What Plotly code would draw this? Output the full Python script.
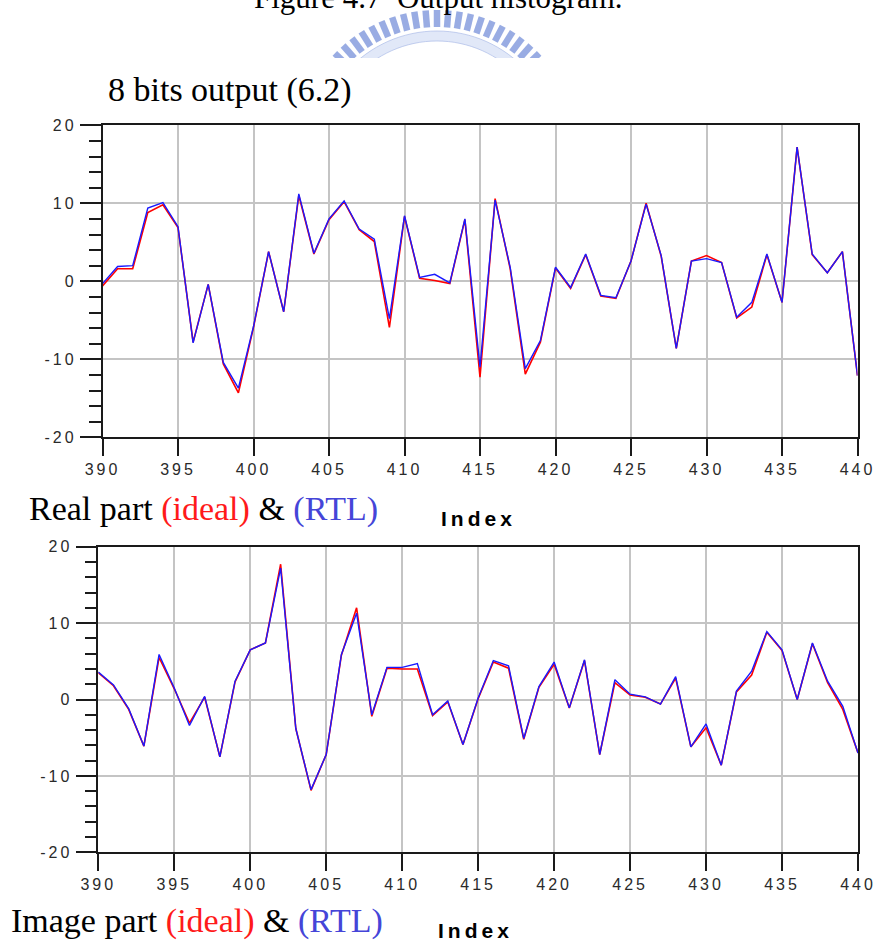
import math
import plotly.graph_objects as go

# ---- data -------------------------------------------------------------
index = list(range(390, 441))

real_ideal = [-0.6, 1.6, 1.6, 8.8, 9.8, 6.9, -7.8, -0.4, -10.6, -14.3,
              -5.9, 3.8, -3.9, 11.0, 3.5, 7.9, 10.2, 6.6, 5.1, -5.9,
              8.3, 0.4, 0.1, -0.3, 7.9, -12.3, 10.6, 1.6, -11.9, -7.8,
              1.7, -0.9, 3.4, -1.9, -2.2, 2.6, 10.0, 3.2, -8.6, 2.6,
              3.3, 2.4, -4.7, -3.3, 3.4, -2.7, 17.2, 3.4, 1.1, 3.8, -12.1]
real_rtl = [-0.3, 1.9, 2.0, 9.4, 10.1, 7.0, -7.9, -0.4, -10.4, -13.7,
            -5.8, 3.8, -3.9, 11.2, 3.6, 8.0, 10.3, 6.7, 5.4, -4.8,
            8.4, 0.5, 0.9, -0.2, 8.0, -11.0, 10.4, 1.8, -11.2, -7.6,
            1.8, -0.8, 3.5, -1.8, -2.1, 2.6, 9.9, 3.3, -8.6, 2.6,
            2.9, 2.4, -4.6, -2.7, 3.5, -2.7, 17.2, 3.5, 1.1, 3.8, -12.1]

imag_ideal = [3.5, 1.8, -1.3, -6.1, 5.5, 1.4, -3.1, 0.3, -7.5, 2.3,
              6.5, 7.4, 17.7, -3.8, -11.9, -7.2, 5.8, 12.0, -2.2, 4.1,
              4.0, 4.0, -2.1, -0.3, -5.9, 0.1, 4.9, 4.1, -5.2, 1.6,
              4.6, -1.1, 5.1, -7.2, 2.2, 0.6, 0.3, -0.6, 2.8, -6.2,
              -3.7, -8.6, 1.0, 3.2, 8.8, 6.4, 0.0, 7.3, 2.2, -1.3, -7.0]
imag_rtl = [3.6, 1.9, -1.2, -6.1, 5.9, 1.5, -3.4, 0.4, -7.5, 2.4,
            6.5, 7.4, 17.2, -3.8, -11.8, -7.2, 5.9, 11.3, -2.0, 4.2,
            4.2, 4.7, -2.0, -0.2, -5.9, 0.2, 5.1, 4.4, -5.1, 1.7,
            4.9, -1.1, 5.2, -7.2, 2.6, 0.7, 0.35, -0.6, 3.0, -6.2,
            -3.2, -8.6, 1.1, 3.7, 8.9, 6.5, 0.0, 7.4, 2.4, -0.9, -7.0]

x_ticks = list(range(390, 441, 5))
y_ticks = [-20, -10, 0, 10, 20]

# ---- helpers ----------------------------------------------------------
W, H = 880, 943


def px(x):
    return x / W


def py(y):
    return 1 - y / H


def spaced(s, gap=3):
    return f"<span style='letter-spacing:{gap}px'>{s}</span>"


RED = "#ff0000"
BLUE = "#1a1aff"
GRID = "#c4c4c4"
AXC = "#1a1a1a"
TICKFONT = dict(family="Liberation Sans, Arial", size=16, color="#2a2a2a")
SERIF = "Liberation Serif, Times New Roman, serif"

fig = go.Figure()

for xa, ya, ideal, rtl in [("x", "y", real_ideal, real_rtl),
                           ("x2", "y2", imag_ideal, imag_rtl)]:
    fig.add_trace(go.Scatter(x=index, y=ideal, mode="lines", xaxis=xa, yaxis=ya,
                             line=dict(color=RED, width=1.6), name="ideal",
                             showlegend=False, hoverinfo="skip"))
    fig.add_trace(go.Scatter(x=index, y=rtl, mode="lines", xaxis=xa, yaxis=ya,
                             line=dict(color=BLUE, width=1.4), name="RTL",
                             showlegend=False, hoverinfo="skip"))


def xaxis_style(domain, anchor):
    return dict(domain=domain, anchor=anchor, range=[390, 440],
                tickvals=x_ticks, ticktext=[spaced(v) for v in x_ticks],
                ticks="outside", ticklen=17, tickwidth=1.5, tickcolor=AXC,
                tickfont=TICKFONT, showgrid=True, gridcolor=GRID, gridwidth=1.5,
                showline=True, linecolor=AXC, linewidth=1.5, mirror=True,
                zeroline=False, fixedrange=True, automargin=False)


def yaxis_style(domain, anchor):
    return dict(domain=domain, anchor=anchor, range=[-20, 20],
                tickvals=y_ticks, ticktext=[spaced(v) for v in y_ticks],
                ticks="outside", ticklen=21, tickwidth=1.5, tickcolor=AXC,
                tickfont=TICKFONT, showgrid=True, gridcolor=GRID, gridwidth=1.5,
                showline=True, linecolor=AXC, linewidth=1.5, mirror=True,
                zeroline=False, fixedrange=True, automargin=False,
                minor=dict(dtick=2, ticks="outside", ticklen=12, tickwidth=1.5,
                           tickcolor=AXC, showgrid=False))


# plot areas (pixel frame of each panel)
top_x = [px(102.5), px(857.5)]
top_y = [py(437.3), py(125.3)]
bot_x = [px(98.3), px(858.0)]
bot_y = [py(852.3), py(546.7)]

# ---- watermark emblem above the charts ---------------------------------
shapes = []
cx, cy = 437, 152
# pale inner ring
pts_out = [(cx + 121 * math.cos(math.radians(d)), cy - 121 * math.sin(math.radians(d)))
           for d in range(30, 151, 3)]
pts_in = [(cx + 111 * math.cos(math.radians(d)), cy - 111 * math.sin(math.radians(d)))
          for d in range(150, 29, -3)]
path = "M " + " L ".join(f"{px(a):.5f},{py(b):.5f}" for a, b in pts_out + pts_in) + " Z"
shapes.append(dict(type="path", xref="paper", yref="paper", path=path,
                   fillcolor="rgba(205,216,244,0.6)",
                   line=dict(color="rgba(160,178,228,0.6)", width=1), layer="below"))
# radial bars of the outer ring
for k in range(-11, 12):
    a = math.radians(90 + k * 4.6)
    x0, y0 = cx + 125 * math.cos(a), cy - 125 * math.sin(a)
    x1, y1 = cx + 142 * math.cos(a), cy - 142 * math.sin(a)
    shapes.append(dict(type="line", xref="paper", yref="paper",
                       x0=px(x0), y0=py(y0), x1=px(x1), y1=py(y1),
                       line=dict(color="rgba(135,158,222,0.85)", width=6.5),
                       layer="below"))
# white sheet over the lower part of the emblem
shapes.append(dict(type="rect", xref="paper", yref="paper",
                   x0=px(250), x1=px(640), y0=py(120), y1=py(58),
                   fillcolor="white", line=dict(width=0), layer="below"))

# ---- text ---------------------------------------------------------------
ann = []


def text(x, y, s, size, family, color="black", anchor="left"):
    ann.append(dict(xref="paper", yref="paper", x=px(x), y=py(y), text=s,
                    showarrow=False, xanchor=anchor, yanchor="middle",
                    font=dict(family=family, size=size, color=color)))


text(438, -2.5, "Figure 4.7  Output histogram.", 31, SERIF, anchor="center")
text(106, 90, "8 bits output (6.2)", 34, SERIF)
legend_txt = ("{} <span style='color:#ff1a1a'>(ideal)</span> &amp; "
              "<span style='color:#4545d8'>(RTL)</span>")
text(27, 509, legend_txt.format("Real part"), 34, SERIF)
text(9, 921, legend_txt.format("Image part"), 34, SERIF)
text(439, 518, spaced("<b>Index</b>", 4), 21, "Liberation Sans, Arial")
text(436, 930, spaced("<b>Index</b>", 4), 21, "Liberation Sans, Arial")

fig.update_layout(
    width=W, height=H,
    margin=dict(l=0, r=0, t=0, b=0, autoexpand=False),
    paper_bgcolor="white", plot_bgcolor="white",
    xaxis=xaxis_style(top_x, "y"),
    yaxis=yaxis_style(top_y, "x"),
    xaxis2=xaxis_style(bot_x, "y2"),
    yaxis2=yaxis_style(bot_y, "x2"),
    shapes=shapes,
    annotations=ann,
    showlegend=False,
)

fig.write_html("out.html", config={"displayModeBar": False})
